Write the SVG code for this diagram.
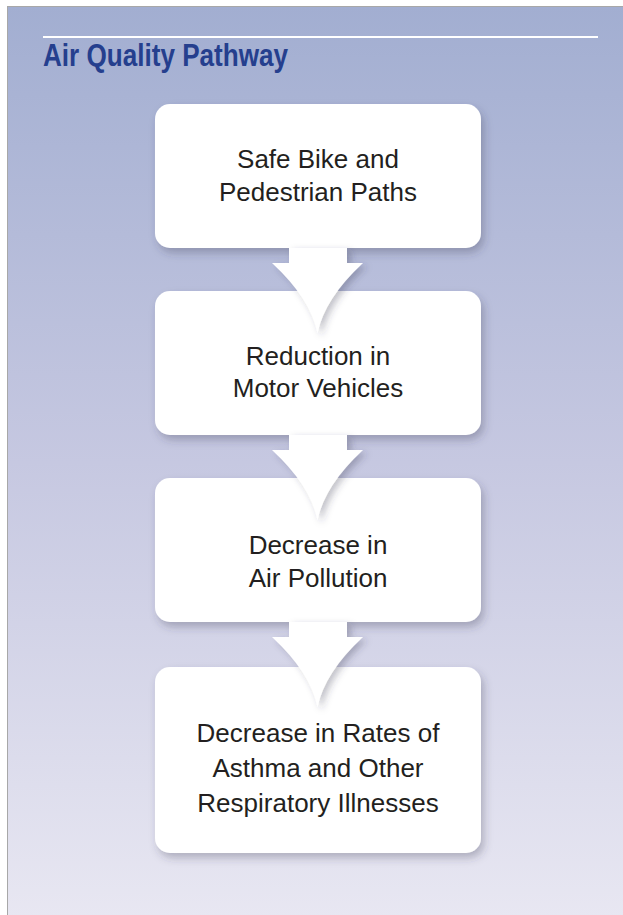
<svg xmlns="http://www.w3.org/2000/svg" width="623" height="915" viewBox="0 0 623 915">
  <defs>
    <linearGradient id="bg" x1="0" y1="0" x2="0" y2="1">
      <stop offset="0" stop-color="#a2aed1"/>
      <stop offset="0.5" stop-color="#c6c8e1"/>
      <stop offset="1" stop-color="#e8e7f2"/>
    </linearGradient>
    <filter id="boxShadow" x="-10%" y="-10%" width="125%" height="130%">
      <feDropShadow dx="3" dy="5" stdDeviation="4" flood-color="#3a3a50" flood-opacity="0.3"/>
    </filter>
    <filter id="arrowShadow" x="-20%" y="-20%" width="150%" height="150%">
      <feDropShadow dx="4" dy="3" stdDeviation="3.5" flood-color="#3a3a50" flood-opacity="0.3"/>
    </filter>
    <path id="arrowShape" d="M289,0 L289,15 L272,15 Q310,50 317.5,85 Q325,50 363,15 L347,15 L347,0 Z"/>
  </defs>
  <style>
    .box { fill: #ffffff; filter: url(#boxShadow); }
    .label { font-family: "Myriad Pro", "Liberation Sans", Arial, sans-serif; font-size: 26px; fill: #231f20; text-anchor: middle; }
    .title { font-family: "Liberation Sans", Arial, sans-serif; font-weight: bold; font-size: 31px; fill: #253f8e; }
    .arrow { fill: #ffffff; filter: url(#arrowShadow); }
  </style>

  <rect x="0" y="0" width="623" height="915" fill="#ffffff"/>
  <rect x="7.5" y="6.5" width="620" height="912" fill="url(#bg)" stroke="#a8a8a8" stroke-width="1"/>

  <g id="title">
    <line x1="43" y1="37" x2="598" y2="37" stroke="#ffffff" stroke-width="2"/>
    <text class="title" x="43" y="66" textLength="245" lengthAdjust="spacingAndGlyphs">Air Quality Pathway</text>
  </g>

  <g id="node1">
    <rect class="box" x="155" y="104" width="326" height="144" rx="15"/>
    <text class="label" x="318" y="168">Safe Bike and</text>
    <text class="label" x="318" y="201">Pedestrian Paths</text>
  </g>

  <g id="node2">
    <rect class="box" x="155" y="291" width="326" height="144" rx="15"/>
    <text class="label" x="318" y="365">Reduction in</text>
    <text class="label" x="318" y="397">Motor Vehicles</text>
  </g>

  <g id="node3">
    <rect class="box" x="155" y="478" width="326" height="144" rx="15"/>
    <text class="label" x="318" y="554">Decrease in</text>
    <text class="label" x="318" y="587">Air Pollution</text>
  </g>

  <g id="node4">
    <rect class="box" x="155" y="667" width="326" height="186" rx="15"/>
    <text class="label" x="318" y="742">Decrease in Rates of</text>
    <text class="label" x="318" y="777">Asthma and Other</text>
    <text class="label" x="318" y="812">Respiratory Illnesses</text>
  </g>

  <g id="connectors">
    <use href="#arrowShape" class="arrow" transform="translate(0,248)"/>
    <use href="#arrowShape" class="arrow" transform="translate(0,435)"/>
    <use href="#arrowShape" class="arrow" transform="translate(0,622)"/>
  </g>
</svg>
